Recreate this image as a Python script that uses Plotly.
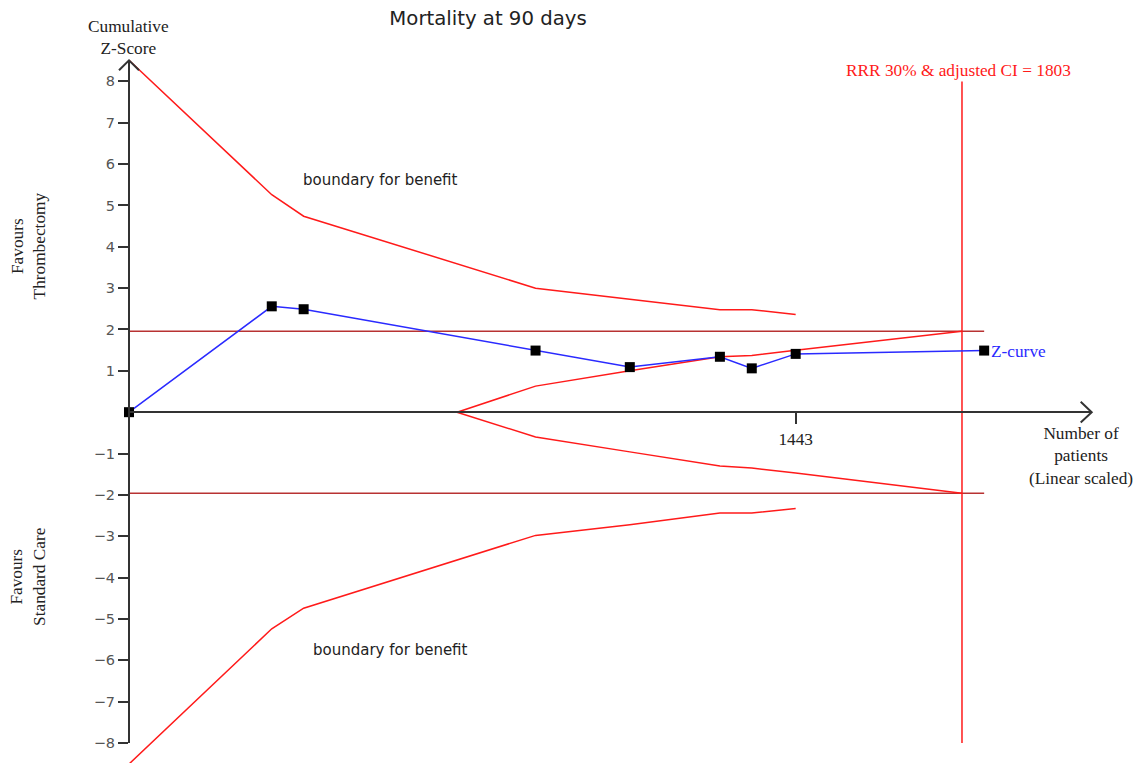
import plotly.graph_objects as go

# ---------------- data ----------------
patients = [0, 309, 378, 880, 1084, 1279, 1348, 1443]
z_curve = [0, 2.56, 2.49, 1.49, 1.09, 1.34, 1.06, 1.41]
z_label_x = 1851
z_label_z = 1.49

bound_x = [0, 309, 378, 880, 1084, 1279, 1348, 1443]
upper_benefit = [8.51, 5.26, 4.74, 3.00, 2.73, 2.48, 2.48, 2.36]
lower_benefit = [-8.51, -5.24, -4.74, -2.98, -2.72, -2.44, -2.44, -2.33]

inner_x = [710, 880, 1084, 1279, 1348, 1443, 1803]
inner_upper = [0, 0.63, 1.00, 1.34, 1.37, 1.50, 1.96]
inner_lower = [0, -0.60, -0.96, -1.30, -1.35, -1.47, -1.96]

ris = 1803
conv_z = 1.96
y_ticks = [-8, -7, -6, -5, -4, -3, -2, -1, 1, 2, 3, 4, 5, 6, 7, 8]
x_ticks = [1443]

# ---------------- geometry (pixel calibration) ----------------
W, H = 1139, 771
X0PX, XS = 129.0, 0.4620   # px of x=0, px per patient
Y0PX, YS = 416.5, 41.78    # px of z=0, px per z unit


def xv(px):
    return (px - X0PX) / XS


def yv(py):
    return (Y0PX - py) / YS


RED = "#ff1a1a"
DARKRED = "#b83232"
BLUE = "#2a2aff"
AX = "#333333"
SERIF = "Liberation Serif"
SANS = "DejaVu Sans"

fig = go.Figure()

# conventional boundaries
for s in (1, -1):
    fig.add_trace(go.Scatter(x=[0, z_label_x], y=[s * conv_z, s * conv_z], mode="lines",
                             line=dict(color=DARKRED, width=1.5), hoverinfo="skip"))

# RIS vertical
fig.add_trace(go.Scatter(x=[ris, ris], y=[8.0, -8.0], mode="lines",
                         line=dict(color=RED, width=1.5), hoverinfo="skip"))

# monitoring boundaries
fig.add_trace(go.Scatter(x=bound_x, y=upper_benefit, mode="lines",
                         line=dict(color=RED, width=1.5), hoverinfo="skip"))
fig.add_trace(go.Scatter(x=bound_x, y=lower_benefit, mode="lines",
                         line=dict(color=RED, width=1.5), hoverinfo="skip"))
fig.add_trace(go.Scatter(x=inner_x, y=inner_upper, mode="lines",
                         line=dict(color=RED, width=1.5), hoverinfo="skip"))
fig.add_trace(go.Scatter(x=inner_x, y=inner_lower, mode="lines",
                         line=dict(color=RED, width=1.5), hoverinfo="skip"))

# Z-curve
fig.add_trace(go.Scatter(x=patients + [z_label_x], y=z_curve + [z_label_z], mode="lines+markers",
                         line=dict(color=BLUE, width=1.5),
                         marker=dict(symbol="square", size=10, color="black"),
                         hoverinfo="skip"))

# axis arrows (chevrons)
ytop = yv(61)
fig.add_trace(go.Scatter(x=[-10 / XS, 0, 10 / XS], y=[ytop - 10 / YS, ytop, ytop - 10 / YS],
                         mode="lines", line=dict(color=AX, width=2), hoverinfo="skip"))
xtip = xv(1091.7)
fig.add_trace(go.Scatter(x=[xtip - 11 / XS, xtip, xtip - 11 / XS], y=[10.5 / YS, 0, -10.5 / YS],
                         mode="lines", line=dict(color=AX, width=2), hoverinfo="skip"))

# invisible traces so that the display axes are drawn
fig.add_trace(go.Scatter(x=[None], y=[None], xaxis="x2", yaxis="y", hoverinfo="skip"))
fig.add_trace(go.Scatter(x=[None], y=[None], xaxis="x", yaxis="y2", hoverinfo="skip"))

# ---------------- texts ----------------
ann = []


def text(x, y, s, size, color="#222222", family=SERIF, angle=0, xref="x", yref="y"):
    ann.append(dict(x=x, y=y, xref=xref, yref=yref, text=s, showarrow=False,
                    font=dict(family=family, size=size, color=color),
                    textangle=angle, xanchor="center", yanchor="middle"))


text(xv(128), yv(37.5), "Cumulative<br>Z-Score", 17.3)
text(xv(380), yv(182), "boundary for benefit", 15, family=SANS)
text(xv(390), yv(657), "boundary for benefit", 15, family=SANS)
text(xv(28), yv(249), "Favours<br>Thrombectomy", 17.3, angle=-90)
text(xv(28), yv(583), "Favours<br>Standard Care", 17.3, angle=-90)
text(xv(958), yv(71), "RRR 30% & adjusted CI = 1803", 17.3, color=RED)
text(xv(1018), yv(355), "Z-curve", 17.3, color=BLUE)
text(xv(1081), yv(461), "Number of<br>patients<br>(Linear scaled)", 17.3)

# ---------------- layout ----------------
fig.update_layout(
    width=W, height=H,
    margin=dict(l=0, r=0, t=0, b=0),
    paper_bgcolor="white", plot_bgcolor="rgba(0,0,0,0)",
    showlegend=False,
    title=dict(text="Mortality at 90 days", x=488 / W, y=1 - 18 / H,
               xanchor="center", yanchor="middle",
               font=dict(family=SANS, size=19.7, color="#222222")),
    xaxis=dict(domain=[0, 1], range=[xv(0), xv(W)], visible=False, fixedrange=True),
    yaxis=dict(domain=[0, 1], range=[yv(H), yv(0)], visible=False, fixedrange=True),
    xaxis2=dict(domain=[X0PX / W, 1091.7 / W], range=[0, xv(1091.7)],
                anchor="free", position=(H - Y0PX) / H,
                showline=True, linecolor=AX, linewidth=2,
                showgrid=False, zeroline=False,
                tickmode="array", tickvals=x_ticks, ticktext=[str(v) for v in x_ticks],
                ticks="outside", ticklen=11, tickwidth=1.5, tickcolor=AX,
                tickfont=dict(family=SERIF, size=17.3, color="#222222"), fixedrange=True),
    yaxis2=dict(domain=[(H - 750.7) / H, (H - 61) / H], range=[yv(750.7), yv(61)],
                anchor="free", position=X0PX / W, side="left",
                showline=True, linecolor=AX, linewidth=2,
                showgrid=False, zeroline=False,
                tickmode="array", tickvals=y_ticks,
                ticks="outside", ticklen=10, tickwidth=2, tickcolor=AX,
                tickfont=dict(family=SANS, size=14.5, color="#555555"), fixedrange=True),
    annotations=ann,
)

fig.write_html("out.html")
